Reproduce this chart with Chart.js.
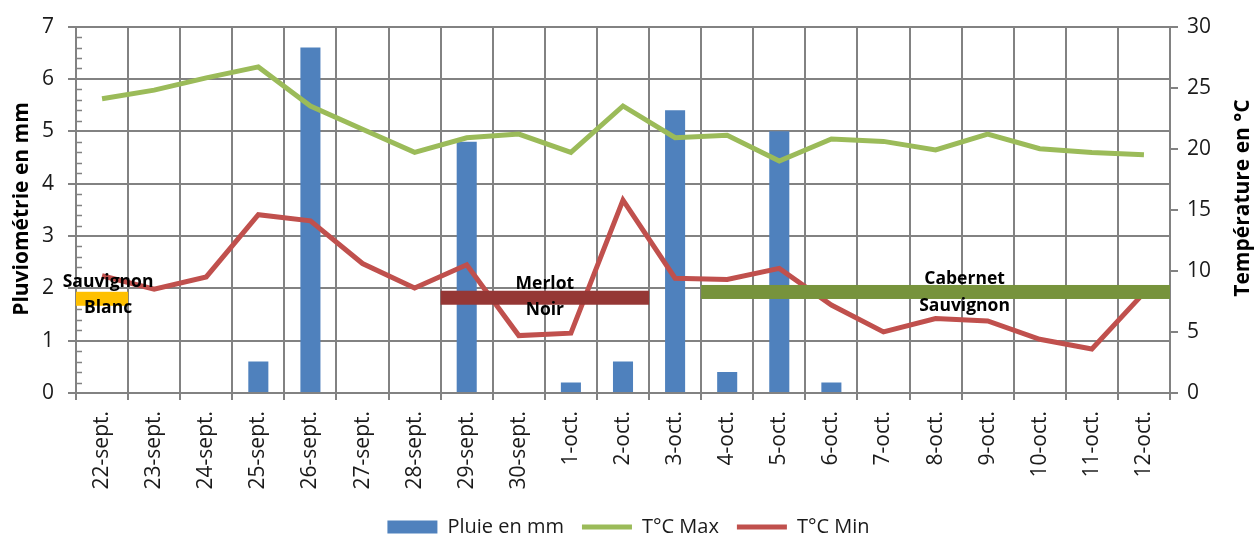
<!DOCTYPE html>
<html lang="fr">
<head>
<meta charset="utf-8">
<title>Pluviométrie et températures</title>
<script src="https://cdn.jsdelivr.net/npm/chart.js@4.4.1/dist/chart.umd.min.js"></script>
<style>
  html, body { margin: 0; padding: 0; background: #ffffff; }
  #meteo { display: block; }
</style>
</head>
<body>
<canvas id="meteo" width="1257" height="536"></canvas>
<script>
// Jours de la période de vendange
const days = ['22-sept.', '23-sept.', '24-sept.', '25-sept.', '26-sept.', '27-sept.', '28-sept.',
  '29-sept.', '30-sept.', '1-oct.', '2-oct.', '3-oct.', '4-oct.', '5-oct.', '6-oct.', '7-oct.',
  '8-oct.', '9-oct.', '10-oct.', '11-oct.', '12-oct.'];

// Pluie journalière (mm)
const rainMm = [0, 0, 0, 0.6, 6.6, 0, 0, 4.8, 0, 0.2, 0.6, 5.4, 0.4, 5.0, 0.2, 0, 0, 0, 0, 0, 0];

// Températures journalières (°C)
const tMax = [24.1, 24.8, 25.8, 26.7, 23.5, 21.6, 19.7, 20.9, 21.2, 19.7, 23.5,
  20.9, 21.1, 19.0, 20.8, 20.6, 19.9, 21.2, 20.0, 19.7, 19.5];
const tMin = [9.6, 8.5, 9.5, 14.6, 14.1, 10.6, 8.6, 10.5, 4.7, 4.9, 15.8,
  9.4, 9.3, 10.2, 7.2, 5.0, 6.1, 5.9, 4.4, 3.6, 8.2];

// Périodes de vendange par cépage (repère tracé sur l'axe des mm)
const cepageLines = [['Sauvignon', 'Blanc'], ['Merlot', 'Noir'], ['Cabernet', 'Sauvignon']];
const vendangeDebut = ['22-sept.', '29-sept.', '4-oct.'];
const vendangeFin = ['22-sept.', '2-oct.', '12-oct.'];
const vendangeNiveau = [1.80, 1.82, 1.93];

// Axis tick values
const mmTicks = [0, 1, 2, 3, 4, 5, 6, 7];
const tempTicks = [0, 5, 10, 15, 20, 25, 30];

const GRID = '#828282';
const FONT = "'Open Sans', 'Liberation Sans', sans-serif";
const TEXT = '#1a1a1a';

// Drawing style for each harvest band and its label
const cepageStyle = [
  { color: '#FFC000', dx: 6,  up: 12, down: 14.5 },
  { color: '#953735', dx: 0,  up: 9,  down: 17 },
  { color: '#77933C', dx: 29, up: 8,  down: 19 }
];

const minorTicks = {
  id: 'minorTicks',
  beforeDatasetsDraw(chart) {
    const { ctx } = chart;
    const y = chart.scales.y;
    ctx.save();
    ctx.strokeStyle = GRID;
    ctx.lineWidth = 1.5;
    for (let i = 0; i < mmTicks.length - 1; i++) {
      for (let k = 1; k < 5; k++) {
        const py = Math.round(y.getPixelForValue(mmTicks[i] + k * 0.2)) + 0.5;
        ctx.beginPath();
        ctx.moveTo(y.right + 1, py);
        ctx.lineTo(y.right + 6, py);
        ctx.stroke();
      }
    }
    ctx.restore();
  }
};

const vendanges = {
  id: 'vendanges',
  afterDatasetsDraw(chart) {
    const { ctx } = chart;
    const x = chart.scales.x;
    const y = chart.scales.y;
    const half = (x.getPixelForValue(1) - x.getPixelForValue(0)) / 2;
    ctx.save();
    cepageLines.forEach((lines, i) => {
      const st = cepageStyle[i];
      const x0 = x.getPixelForValue(days.indexOf(vendangeDebut[i])) - half;
      const x1 = x.getPixelForValue(days.indexOf(vendangeFin[i])) + half;
      const yc = y.getPixelForValue(vendangeNiveau[i]);
      ctx.fillStyle = st.color;
      ctx.fillRect(x0, yc - 7, x1 - x0, 14);
      const cx = (x0 + x1) / 2 + st.dx;
      ctx.fillStyle = '#000';
      ctx.font = `bold 17.5px ${FONT}`;
      ctx.textAlign = 'center';
      ctx.textBaseline = 'alphabetic';
      ctx.fillText(lines[0], cx, yc - st.up);
      ctx.fillText(lines[1], cx, yc + st.down);
    });
    ctx.restore();
  }
};

const axisTitles = {
  id: 'axisTitles',
  afterDraw(chart) {
    const { ctx } = chart;
    ctx.save();
    ctx.fillStyle = '#000';
    ctx.font = `bold 21px ${FONT}`;
    ctx.textAlign = 'center';
    ctx.textBaseline = 'middle';
    ctx.translate(22, 209);
    ctx.rotate(-Math.PI / 2);
    ctx.fillText('Pluviométrie en mm', 0, 0);
    ctx.restore();
    ctx.save();
    ctx.fillStyle = '#000';
    ctx.font = `bold 21px ${FONT}`;
    ctx.textAlign = 'center';
    ctx.textBaseline = 'middle';
    ctx.translate(1243, 198);
    ctx.rotate(-Math.PI / 2);
    ctx.fillText('Température en °C', 0, 0);
    ctx.restore();
  }
};

const whiteBackground = {
  id: 'whiteBackground',
  beforeDraw(chart) {
    const { ctx } = chart;
    ctx.save();
    ctx.fillStyle = '#ffffff';
    ctx.fillRect(0, 0, chart.width, chart.height);
    ctx.restore();
  }
};

new Chart(document.getElementById('meteo'), {
  type: 'bar',
  data: {
    labels: days,
    datasets: [
      {
        type: 'bar',
        label: 'Pluie en mm',
        data: rainMm,
        backgroundColor: '#4F81BD',
        borderWidth: 0,
        barPercentage: 0.385,
        categoryPercentage: 1,
        yAxisID: 'y',
        order: 2
      },
      {
        type: 'line',
        label: 'T°C Max',
        data: tMax,
        borderColor: '#9BBB59',
        backgroundColor: '#9BBB59',
        borderWidth: 5,
        pointRadius: 0,
        tension: 0,
        yAxisID: 'y2',
        order: 1
      },
      {
        type: 'line',
        label: 'T°C Min',
        data: tMin,
        borderColor: '#C0504D',
        backgroundColor: '#C0504D',
        borderWidth: 5,
        pointRadius: 0,
        tension: 0,
        yAxisID: 'y2',
        order: 0
      }
    ]
  },
  options: {
    responsive: false,
    animation: false,
    devicePixelRatio: 1,
    layout: { padding: { top: 24, left: 0, right: 0, bottom: -11 } },
    plugins: {
      tooltip: { enabled: false },
      legend: {
        position: 'bottom',
        labels: {
          usePointStyle: true,
          pointStyleWidth: 50,
          boxHeight: 13,
          padding: 18,
          color: TEXT,
          font: { family: FONT, size: 20 },
          generateLabels(chart) {
            const items = Chart.defaults.plugins.legend.labels.generateLabels(chart);
            items.forEach(it => {
              const ds = chart.data.datasets[it.datasetIndex];
              if (ds.type === 'bar') {
                it.pointStyle = 'rect';
                it.lineWidth = 0;
                it.fillStyle = ds.backgroundColor;
              } else {
                it.pointStyle = 'line';
                it.lineWidth = 5;
                it.strokeStyle = ds.borderColor;
              }
            });
            return items.sort((a, b) => a.datasetIndex - b.datasetIndex);
          }
        }
      }
    },
    scales: {
      x: {
        grid: { offset: true, color: GRID, lineWidth: 2, tickLength: 7 },
        border: { color: GRID, width: 2 },
        ticks: {
          autoSkip: false, minRotation: 90, maxRotation: 90, padding: 11,
          color: TEXT, font: { family: FONT, size: 21 }
        },
        afterFit(scale) { scale.height = 106; }
      },
      y: {
        position: 'left',
        min: mmTicks[0],
        max: mmTicks[mmTicks.length - 1],
        grid: { color: GRID, lineWidth: 2, tickLength: 8 },
        border: { color: GRID, width: 2 },
        ticks: {
          stepSize: 1, padding: 14, color: TEXT,
          font: { family: FONT, size: 21 }
        },
        afterFit(scale) { scale.width = 76; }
      },
      y2: {
        position: 'right',
        min: tempTicks[0],
        max: tempTicks[tempTicks.length - 1],
        grid: { drawOnChartArea: false, color: GRID, lineWidth: 2, tickLength: 8 },
        border: { color: GRID, width: 2 },
        ticks: {
          stepSize: 5, padding: 9, color: TEXT,
          font: { family: FONT, size: 21 }
        },
        afterFit(scale) { scale.width = 87; }
      }
    }
  },
  plugins: [whiteBackground, minorTicks, vendanges, axisTitles]
});
</script>
</body>
</html>
